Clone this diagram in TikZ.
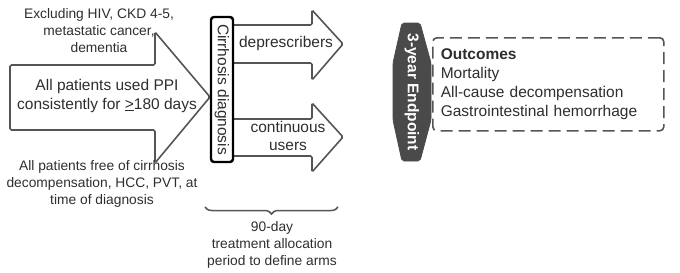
\documentclass[tikz,border=0pt]{standalone}
\usepackage{fontspec}
\setmainfont{Liberation Sans}
\usetikzlibrary{decorations.pathreplacing}
\definecolor{linegray}{HTML}{555555}
\definecolor{txtgray}{HTML}{2E2E2E}
\definecolor{endgray}{HTML}{4A4A4A}
\tikzset{
 arm/.style={draw=linegray,line width=1.6pt,rounded corners=1.5pt,fill=white},
 small/.style={font=\fontsize{13.8}{17}\selectfont,align=center,text=txtgray},
 big/.style={font=\fontsize{15.5}{18.5}\selectfont,align=center,text=txtgray}
}
\begin{document}
\begin{tikzpicture}[x=1pt,y=-1pt,thick]
 \useasboundingbox (0,0) rectangle (680,273);
 \draw[arm] (10,65) -- (155,65) -- (155,32) -- (210,97) -- (155,163) -- (155,130) -- (10,130) -- cycle;
 \draw[arm] (233,25) -- (312,25) -- (312,10) -- (343,44) -- (312,80) -- (312,63) -- (233,63);
 \draw[arm] (233,119) -- (312,119) -- (312,103) -- (343,137) -- (312,172) -- (312,156) -- (233,156);
 \path 	(99,30.5) 	node[small] (excl) {Excluding HIV, CKD 4-5,\\metastatic cancer,\\dementia}
 	(107,96) 	node[big] (ppi) {All patients used PPI\\consistently for \underline{>}180 days}
 	(102,184) 	node[small] (free) {All patients free of cirrhosis\\decompensation, HCC, PVT, at\\time of diagnosis}
 	(286,43) 	node[big] (depr) {deprescribers}
 	(288,136) 	node[big] (cont) {continuous\\users}
 	(272,245) 	node[small] (arms) {90-day\\treatment allocation\\period to define arms};
 \node[draw=black,line width=2.4pt,rounded corners=3pt,fill=white,rotate=-90,minimum width=145pt,
   minimum height=22pt,inner sep=0pt,font=\fontsize{15.5}{18}\selectfont,text=txtgray] (diag) at (222,89.5) {Cirrhosis diagnosis};
 \draw[linegray,line width=1.5pt,decorate,decoration={brace,amplitude=7pt,mirror}] (205,207) -- (338,207);
 \draw[endgray,fill=endgray,rounded corners=2pt] (402,23) -- (420,23) -- (431,63) -- (431,120) -- (420,161) -- (402,161) -- (393,120) -- (393,63) -- cycle;
 \node[rotate=-90,text=white,font=\bfseries\fontsize{15.5}{18}\selectfont] (endp) at (412,92) {3-year Endpoint};
 \node[draw=linegray,line width=1.6pt,dash pattern=on 12pt off 6pt,rounded corners=4pt,anchor=north west,
   minimum width=231pt,minimum height=93pt,text width=215pt,align=left,inner xsep=7pt,
   font=\fontsize{15.5}{19}\selectfont,text=txtgray] (outc) at (432,37)
   {\textbf{Outcomes}\\Mortality\\All-cause decompensation\\Gastrointestinal hemorrhage};
\end{tikzpicture}
\end{document}
